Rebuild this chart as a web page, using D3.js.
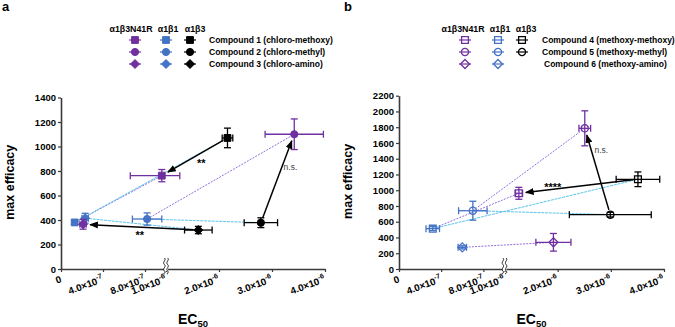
<!DOCTYPE html>
<html>
<head>
<meta charset="utf-8">
<script src="https://cdn.jsdelivr.net/npm/d3@7/dist/d3.min.js"></script>
<style>
body { margin: 0; background: #fff; }
svg { display: block; font-family: "Liberation Sans", Arial, sans-serif; }
</style>
</head>
<body>
<div id="chart"></div>
<script>
const W = 675, H = 327;

// ---- data ----
const receptors = ["α1β3N41R", "α1β1", "α1β3"];
const receptorColors = ["#7030a0", "#4472c4", "#000000"];
const shapes = ["square", "circle", "diamond"];

const compoundsA = ["Compound 1 (chloro-methoxy)", "Compound 2 (chloro-methyl)", "Compound 3 (chloro-amino)"];
const compoundsB = ["Compound 4 (methoxy-methoxy)", "Compound 5 (methoxy-methyl)", "Compound 6 (methoxy-amino)"];

// [compound, receptor, EC50, EC50 err, max efficacy, efficacy err]
const pointsA = [
	[0, 0, 0.96e-6, 0.30e-6, 762, 50],
	[0, 1, 0.13e-6, 0.02e-6, 380, 15],
	[0, 2, 2.16e-6, 0.10e-6, 1070, 80],
	[1, 0, 3.42e-6, 0.55e-6, 1100, 125],
	[1, 1, 0.82e-6, 0.14e-6, 408, 50],
	[1, 2, 2.79e-6, 0.315e-6, 378, 40],
	[2, 0, 0.21e-6, 0.03e-6, 365, 40],
	[2, 1, 0.23e-6, 0.03e-6, 415, 40],
	[2, 2, 1.61e-6, 0.26e-6, 318, 30]
];
const pointsB = [
	[0, 0, 1.27e-6, 0.07e-6, 961, 76],
	[0, 1, 0.32e-6, 0.064e-6, 512, 25],
	[0, 2, 3.51e-6, 0.41e-6, 1139, 93],
	[1, 0, 2.51e-6, 0.11e-6, 1786, 222],
	[1, 1, 0.70e-6, 0.135e-6, 740, 120],
	[1, 2, 2.99e-6, 0.77e-6, 690, 30],
	[2, 0, 1.92e-6, 0.33e-6, 339, 112],
	[2, 1, 0.60e-6, 0.04e-6, 275, 20]
];

// [compound, significance] : arrow from α1β3 to α1β3N41R
const sigA = [[0, "**"], [1, "n.s."], [2, "**"]];
const sigB = [[0, "****"], [1, "n.s."]];

const xTicks = [0, 4e-7, 8e-7, 1e-6, 2e-6, 3e-6, 4e-6];
const xTickMant = ["0", "4.0", "8.0", "1.0", "2.0", "3.0", "4.0"];
const xTickExp = ["", "-7", "-7", "-6", "-6", "-6", "-6"];
const yTicksA = [0, 200, 400, 600, 800, 1000, 1200, 1400];
const yTicksB = [0, 200, 400, 600, 800, 1000, 1200, 1400, 1600, 1800, 2000, 2200];

// ---- layout ----
const panels = [
	{
		letter: "a", lx: 2, points: pointsA, sig: sigA, compounds: compoundsA, yTicks: yTicksA, yMax: 1400,
		x0: 61, xb: 166, x1: 325, yTop: 97.5, yBot: 269, open: false, titleX: 13.5,
		legCols: [135, 166, 190], legHead: [131, 168, 195], legLabelX: 209,
		sigLayout: [[0.4, 0, 14, "middle"], [0.62, 2, 2, "start"], [0.5, -1, 12, "middle"]]
	},
	{
		letter: "b", lx: 344, points: pointsB, sig: sigB, compounds: compoundsB, yTicks: yTicksB, yMax: 2200,
		x0: 399, xb: 504.5, x1: 664, yTop: 95.7, yBot: 269, open: true, titleX: 351.5,
		legCols: [465, 498, 522], legHead: [463, 500, 526], legLabelX: 542,
		sigLayout: [[0.715, 0, 2, "middle"], [0.74, 3, 2, "start"]]
	}
];
const legRows = [40, 52, 64];

const svg = d3.select("#chart").append("svg").attr("width", W).attr("height", H);
svg.append("rect").attr("width", W).attr("height", H).attr("fill", "#fff");

svg.append("defs").append("marker")
	.attr("id", "arrowhead")
	.attr("viewBox", "0 0 10 8")
	.attr("refX", 9).attr("refY", 4)
	.attr("markerWidth", 9).attr("markerHeight", 7)
	.attr("markerUnits", "userSpaceOnUse")
	.attr("orient", "auto")
	.append("path").attr("d", "M0,0 L10,4 L0,8 Z").attr("fill", "#000");

function shapePath(shape, s) {
	if (shape === "square") return `M${-s},${-s}h${2 * s}v${2 * s}h${-2 * s}Z`;
	if (shape === "circle") return `M${-s},0a${s},${s} 0 1,0 ${2 * s},0a${s},${s} 0 1,0 ${-2 * s},0Z`;
	const d = s * 1.25;
	return `M0,${-d}L${d},0L0,${d}L${-d},0Z`;
}

function drawMarker(g, cx, cy, shape, color, open) {
	const s = shape === "square" ? 3.4 : 3.6;
	g.append("path")
		.attr("transform", `translate(${cx},${cy})`)
		.attr("d", shapePath(shape, s))
		.attr("fill", open ? "none" : color)
		.attr("stroke", color)
		.attr("stroke-width", open ? 1.3 : 1);
}

panels.forEach((p) => {
	const x = d3.scaleLinear().domain([0, 1e-6, 4e-6]).range([p.x0, p.xb, p.x1]);
	const y = d3.scaleLinear().domain([0, p.yMax]).range([p.yBot, p.yTop]);
	const g = svg.append("g");

	// panel letter
	g.append("text").attr("x", p.lx).attr("y", 11)
		.style("font-size", "13px").style("font-weight", "bold").text(p.letter);

	// legend
	receptors.forEach((r, i) => {
		g.append("text").attr("x", p.legHead[i]).attr("y", 31.5)
			.attr("text-anchor", "middle")
			.style("font-size", "8.8px").style("font-weight", "bold").text(r);
	});
	p.compounds.forEach((c, ci) => {
		receptors.forEach((r, ri) => {
			if (!p.points.some((d) => d[0] === ci && d[1] === ri)) return;
			const cx = p.legCols[ri], cy = legRows[ci];
			g.append("line").attr("x1", cx - 6).attr("x2", cx + 6).attr("y1", cy).attr("y2", cy)
				.attr("stroke", receptorColors[ri]).attr("stroke-width", 1.2);
			drawMarker(g, cx, cy, shapes[ci], receptorColors[ri], p.open);
		});
		g.append("text").attr("x", p.legLabelX + (ci === 2 && p.open ? 2 : 0)).attr("y", legRows[ci])
			.attr("dy", "0.35em")
			.style("font-size", "8.5px").style("font-weight", "bold").text(c);
	});

	// axes
	const yAxis = g.append("g").attr("transform", `translate(${p.x0},0)`)
		.call(d3.axisLeft(y).tickValues(p.yTicks).tickFormat(d3.format("d"))
			.tickSize(3).tickSizeOuter(0).tickPadding(2));
	yAxis.selectAll("text").style("font-size", "9.5px").style("font-weight", "bold").attr("fill", "#000");

	const xAxis = g.append("g").attr("transform", `translate(0,${p.yBot})`)
		.call(d3.axisBottom(x).tickValues(xTicks).tickSize(3).tickSizeOuter(0).tickFormat(""));
	[yAxis, xAxis].forEach((a) => {
		a.select(".domain").attr("stroke", "#3a3a3a").attr("stroke-width", 1.6);
		a.selectAll(".tick line").attr("stroke", "#3a3a3a").attr("stroke-width", 1.2);
	});

	xTicks.forEach((v, i) => {
		const t = g.append("text")
			.attr("transform", `translate(${x(v) + 1},${p.yBot + 13}) rotate(-20)`)
			.attr("text-anchor", "end")
			.style("font-size", "9.8px").style("font-weight", "bold");
		if (xTickExp[i]) {
			t.append("tspan").text(xTickMant[i] + "×10");
			t.append("tspan").attr("dy", -4.5).style("font-size", "7px").text(xTickExp[i]);
		} else {
			t.text(xTickMant[i]);
		}
	});

	// axis break
	const bx = x(1e-6);
	g.append("rect").attr("x", bx - 2).attr("y", p.yBot - 2).attr("width", 4).attr("height", 4).attr("fill", "#fff");
	[-1.6, 1.6].forEach((o) => {
		const x0 = bx + o, y0 = p.yBot - 11;
		g.append("path")
			.attr("d", `M${x0},${y0} c2.5,2 -2.5,4 0,6.5 s-2.5,4 0,6.5 s-2.5,2 0,3`)
			.attr("fill", "none").attr("stroke", "#222").attr("stroke-width", 1);
	});

	// axis titles
	g.append("text")
		.attr("transform", `translate(${p.titleX},${(p.yTop + p.yBot) / 2 - 1}) rotate(-90)`)
		.attr("text-anchor", "middle")
		.style("font-size", "12.5px").style("font-weight", "bold").text("max efficacy");
	const ec = g.append("text")
		.attr("x", (p.x0 + p.x1) / 2).attr("y", 323.5)
		.attr("text-anchor", "middle")
		.style("font-size", "14px").style("font-weight", "bold");
	ec.append("tspan").text("EC");
	ec.append("tspan").attr("dy", 3).style("font-size", "9.5px").text("50");

	// connecting lines from α1β1 point to the other receptors
	const find = (c, r) => p.points.find((d) => d[0] === c && d[1] === r);
	p.compounds.forEach((c, ci) => {
		const hub = find(ci, 1);
		if (!hub) return;
		[[0, "#9370e0"], [2, "#5bc5ea"]].forEach(([ri, col]) => {
			const o = find(ci, ri);
			if (!o) return;
			g.append("line")
				.attr("x1", x(hub[2])).attr("y1", y(hub[4]))
				.attr("x2", x(o[2])).attr("y2", y(o[4]))
				.attr("stroke", col).attr("stroke-width", 1)
				.attr("stroke-dasharray", ri === 0 ? "2,1.2" : "3,0.8");
		});
	});

	// error bars and markers
	const order = [1, 2, 0];
	order.forEach((ri) => {
		p.points.filter((d) => d[1] === ri).forEach((d) => {
			const col = receptorColors[ri];
			const cx = x(d[2]), cy = y(d[4]);
			const xl = x(d[2] - d[3]), xr = x(d[2] + d[3]);
			const yt = y(d[4] + d[5]), yb = y(d[4] - d[5]);
			const eb = g.append("g").attr("stroke", col).attr("stroke-width", 1.3).attr("fill", "none");
			eb.append("line").attr("x1", xl).attr("x2", xr).attr("y1", cy).attr("y2", cy);
			eb.append("line").attr("x1", xl).attr("x2", xl).attr("y1", cy - 3.5).attr("y2", cy + 3.5);
			eb.append("line").attr("x1", xr).attr("x2", xr).attr("y1", cy - 3.5).attr("y2", cy + 3.5);
			eb.append("line").attr("x1", cx).attr("x2", cx).attr("y1", yt).attr("y2", yb);
			eb.append("line").attr("x1", cx - 3.5).attr("x2", cx + 3.5).attr("y1", yt).attr("y2", yt);
			eb.append("line").attr("x1", cx - 3.5).attr("x2", cx + 3.5).attr("y1", yb).attr("y2", yb);
			drawMarker(g, cx, cy, shapes[d[0]], col, p.open);
		});
	});

	// comparison arrows α1β3 -> α1β3N41R
	p.sig.forEach(([ci, label], k) => {
		const a = find(ci, 2), b = find(ci, 0);
		const ax = x(a[2]), ay = y(a[4]), bxp = x(b[2]), byp = y(b[4]);
		const len = Math.hypot(bxp - ax, byp - ay);
		const ux = (bxp - ax) / len, uy = (byp - ay) / len;
		const sx = ax + ux * 5, sy = ay + uy * 5;
		const ex = bxp - ux * 7, ey = byp - uy * 7;
		g.append("line")
			.attr("x1", sx).attr("y1", sy).attr("x2", ex).attr("y2", ey)
			.attr("stroke", "#000").attr("stroke-width", 1.5)
			.attr("marker-end", "url(#arrowhead)");
		const [t, dx, dy, anchor] = p.sigLayout[k];
		const lxp = ax + (bxp - ax) * t + dx, lyp = ay + (byp - ay) * t + dy;
		const ns = label === "n.s.";
		g.append("text").attr("x", lxp).attr("y", lyp)
			.attr("text-anchor", anchor)
			.attr("fill", ns ? "#444" : "#000")
			.style("font-size", ns ? "8.5px" : "11px")
			.style("font-weight", ns ? "normal" : "bold")
			.text(label);
	});
});
</script>
</body>
</html>
